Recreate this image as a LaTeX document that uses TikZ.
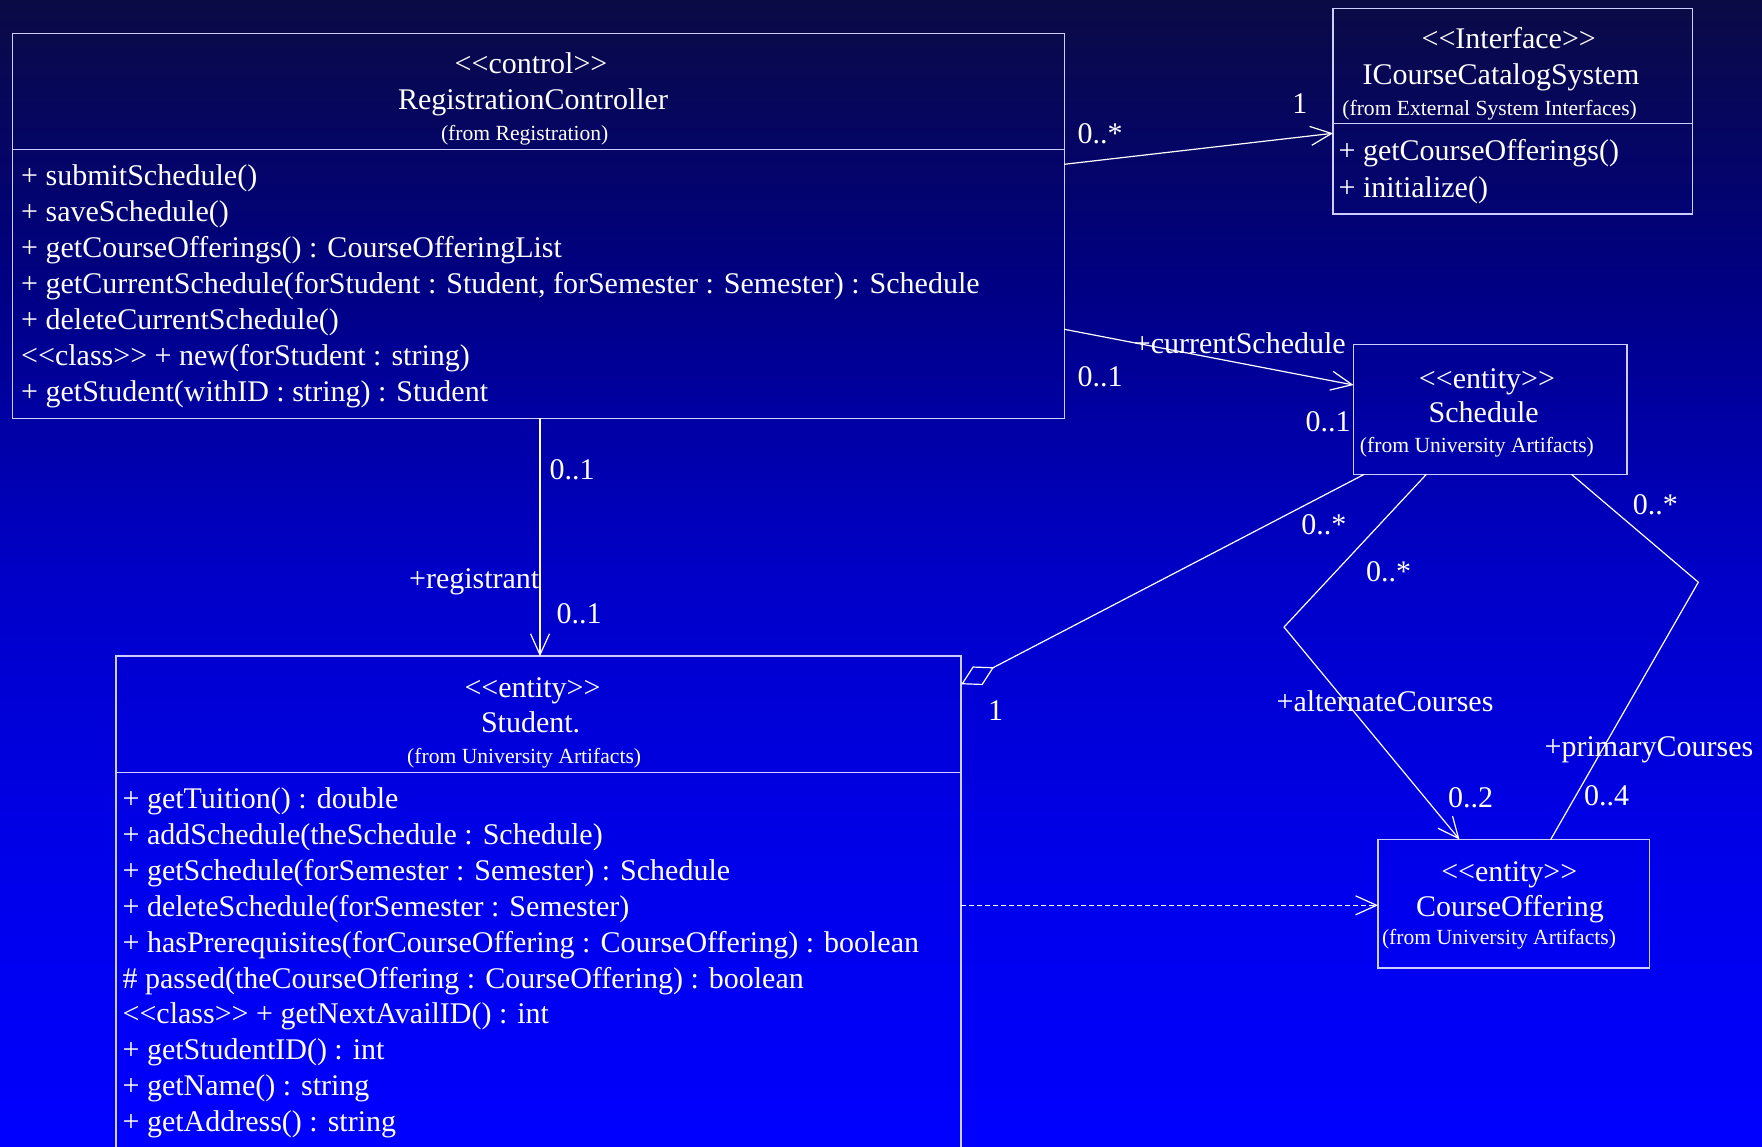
\documentclass[tikz,border=0pt]{standalone}
\usepackage{fontspec}
\setmainfont{Liberation Serif}
\usetikzlibrary{arrows.meta}

% backdrop: dark navy at the top fading to pure blue at the bottom
% (TikZ maps the 25bp..75bp band of a shading onto the filled path)
\pgfdeclareverticalshading{skyfade}{100bp}{%
  rgb(0bp)=(0,0,1); rgb(25bp)=(0,0,1); rgb(37bp)=(0,0,0.92);
  rgb(50.15bp)=(0,0,0.78); rgb(62.8bp)=(0,0,0.51);
  rgb(75bp)=(0.04,0.04,0.27); rgb(100bp)=(0.04,0.04,0.27)}

% stereotype brackets; the kern keeps << and >> from turning into guillemets
\newcommand\stereo[1]{<\kern0pt<#1>\kern0pt>}

\definecolor{rim}{RGB}{205,205,255}

\begin{document}
\begin{tikzpicture}[x=1pt,y=-1pt,
  box/.style={draw=rim, line width=1.5pt, rectangle, anchor=north west,
              inner sep=0pt, outer sep=0pt},
  sep/.style={draw=rim, line width=1.3pt},
  big/.style={text=white, font=\fontsize{30}{36}\selectfont, inner sep=0pt,
              text height=23.3pt, text depth=2.7pt},
  small/.style={text=white, font=\fontsize{21.6}{26}\selectfont, inner sep=0pt,
              text height=16.5pt, text depth=3pt},
  member/.style={big, anchor=west},
  link/.style={draw=white, line width=1.2pt},
  nav/.style={link, -{Straight Barb[length=21pt,width=19pt]}},
]
\useasboundingbox (0,0) rectangle (1762,1147);
\shade[shading=skyfade] (0,0) rectangle (1762,1147);
\clip (0,0) rectangle (1762,1147);

% ---------- RegistrationController ----------
\node[box, minimum width=1051.7pt, minimum height=384.8pt] (rc) at (12.6,33.5) {};
\draw[sep] (rc.west |- 0,149.3) -- (rc.east |- 0,149.3);
\node[big]   (rcS) at (531,63.3)  {\stereo{control}};
\node[big]   (rcN) at (533,99.3)  {RegistrationController};
\node[small] (rcP) at (524.7,134) {(from Registration)};
\node[member] (rc1) at (21,175.7) {+ submitSchedule()};
\node[member] (rc2) at (21,211.7) {+ saveSchedule()};
\node[member] (rc3) at (21,247.7) {+ getCourseOfferings() : CourseOfferingList};
\node[member] (rc4) at (21,283.7) {+ getCurrentSchedule(forStudent : Student, forSemester : Semester) : Schedule};
\node[member] (rc5) at (21,319.5) {+ deleteCurrentSchedule()};
\node[member] (rc6) at (21,355.3) {\stereo{class} + new(forStudent : string)};
\node[member] (rc7) at (21,391)   {+ getStudent(withID : string) : Student};

% ---------- ICourseCatalogSystem ----------
\node[box, minimum width=359.5pt, minimum height=205.5pt] (ic) at (1333,8.5) {};
\draw[sep] (ic.west |- 0,123.4) -- (ic.east |- 0,123.4);
\node[big]   (icS) at (1508.7,38.3) {\stereo{Interface}};
\node[big]   (icN) at (1501,74)     {ICourseCatalogSystem};
\node[small] (icP) at (1489.6,108.3) {(from External System Interfaces)};
\node[member] (ic1) at (1338.4,150.5) {+ getCourseOfferings()};
\node[member] (ic2) at (1338.4,187.3) {+ initialize()};

% ---------- Schedule ----------
\node[box, minimum width=273.3pt, minimum height=129.8pt] (sc) at (1353.5,344.5) {};
\node[big]   (scS) at (1486.9,378.3) {\stereo{entity}};
\node[big]   (scN) at (1483.7,412.3) {Schedule};
\node[small] (scP) at (1476.9,446)   {(from University Artifacts)};

% ---------- Student (runs past the lower edge) ----------
\node[box, minimum width=845.2pt, minimum height=520pt] (st) at (116,656.2) {};
\draw[sep] (st.west |- 0,772.8) -- (st.east |- 0,772.8);
\node[big]   (stS) at (532.5,686.8) {\stereo{entity}};
\node[big]   (stN) at (530.6,722.5) {Student.};
\node[small] (stP) at (524.2,756.4) {(from University Artifacts)};
\node[member] (st1)  at (122.4,798.3)  {+ getTuition() : double};
\node[member] (st2)  at (122.4,834)    {+ addSchedule(theSchedule : Schedule)};
\node[member] (st3)  at (122.4,870.2)  {+ getSchedule(forSemester : Semester) : Schedule};
\node[member] (st4)  at (122.4,906)    {+ deleteSchedule(forSemester : Semester)};
\node[member] (st5)  at (122.4,942.2)  {+ hasPrerequisites(forCourseOffering : CourseOffering) : boolean};
\node[member] (st6)  at (122.4,977.9)  {\# passed(theCourseOffering : CourseOffering) : boolean};
\node[member] (st7)  at (122.4,1013.6) {\stereo{class} + getNextAvailID() : int};
\node[member] (st8)  at (122.4,1049.3) {+ getStudentID() : int};
\node[member] (st9)  at (122.4,1085.6) {+ getName() : string};
\node[member] (st10) at (122.4,1121.3) {+ getAddress() : string};

% ---------- CourseOffering ----------
\node[box, minimum width=271.5pt, minimum height=128.5pt] (co) at (1378,839.5) {};
\node[big]   (coS) at (1509.3,870.9) {\stereo{entity}};
\node[big]   (coN) at (1510,906)     {CourseOffering};
\node[small] (coP) at (1499,937.5)   {(from University Artifacts)};

% ---------- associations ----------
\draw[nav] (rc.east |- 0,164.3) -- (ic.west |- 0,133.3);
\node[big] (m1) at (1100,133.5) {0..*};
\node[big] (m2) at (1299.8,103.3) {1};

\draw[nav] (rc.east |- 0,329.3) -- (sc.west |- 0,385);
\node[big] (r1) at (1239.8,343.3) {+currentSchedule};
\node[big] (m3) at (1100,376) {0..1};
\node[big] (m4) at (1328,421) {0..1};

\draw[nav] (rc.south -| 540,0) -- (st.north -| 540,0);
\node[big] (m5) at (572,469) {0..1};
\node[big, anchor=east] (r2) at (539.5,577.7) {+registrant};
\node[big] (m6) at (579,613) {0..1};

% aggregation: Student holds Schedules
\draw[link, {Diamond[open,length=37pt,width=21pt]}-] (st.east |- 0,684.3) -- (sc.south -| 1364.3,0);
\node[big] (m7) at (1323.9,524.4) {0..*};
\node[big] (m8) at (995.6,710.3) {1};

% alternate courses
\coordinate (altBend) at (1284,627.1);
\draw[nav] (sc.south -| 1426.4,0) -- (altBend) -- (co.north -| 1459.5,0);
\node[big] (m9)  at (1388.6,571) {0..*};
\node[big] (r3)  at (1385,700.8) {+alternateCourses};
\node[big] (m10) at (1470.5,797.2) {0..2};

% primary courses
\coordinate (priBend) at (1698.3,582.2);
\draw[link] (sc.south -| 1571.4,0) -- (priBend) -- (co.north -| 1550.7,0);
\node[big] (m11) at (1655.3,504.4) {0..*};
\node[big] (r4)  at (1649,746.4) {+primaryCourses};
\node[big] (m12) at (1606.7,795.5) {0..4};

% dependency
\draw[nav, dash pattern=on 5pt off 3pt] (st.east |- 0,905.3) -- (co.west |- 0,905.3);
\end{tikzpicture}
\end{document}
